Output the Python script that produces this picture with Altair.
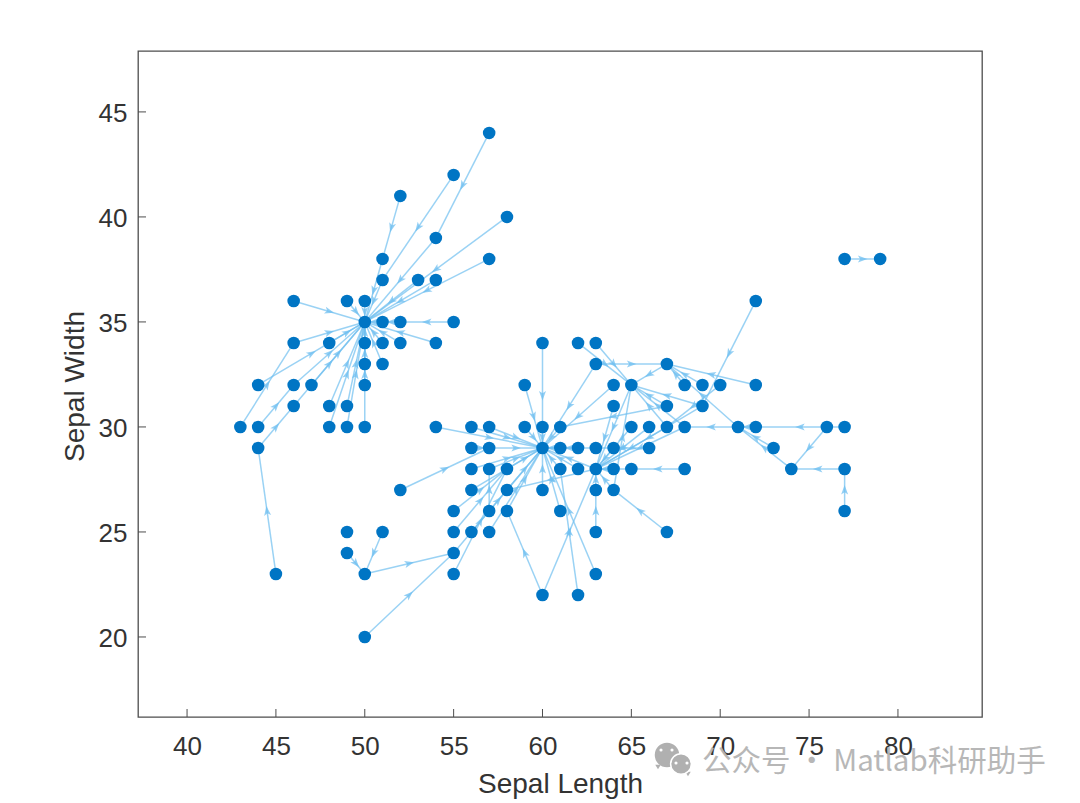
import math
import altair as alt
import pandas as pd

x_ticks = [40, 45, 50, 55, 60, 65, 70, 75, 80]
y_ticks = [20, 25, 30, 35, 40, 45]
x_domain = [37.24, 84.73]
y_domain = [16.19, 47.9]
PW, PH = 844, 666

node_x = [57,55,52,58,54,57,51,51,53,54,46,49,50,46,48,50,51,52,54,50,51,52,55,50,51,44,46,47,50,46,48,49,43,44,48,49,50,44,45,
          60,62,63,63,67,59,64,65,68,69,70,72,64,67,69,72,
          54,56,57,59,60,61,65,66,67,68,71,76,77,
          56,57,60,61,62,63,64,66,73,
          56,57,58,61,62,63,64,65,68,74,77,
          52,56,58,60,63,64,55,57,58,61,77,
          49,51,55,56,57,63,67,49,55,50,55,63,60,62,50,77,79,72]
node_y = [44,42,41,40,39,38,38,37,37,37,36,36,36,34,34,34,34,34,34,35,35,35,35,33,33,32,32,32,32,31,31,31,30,30,30,30,30,29,23,
          34,34,34,33,33,32,32,32,32,32,32,32,31,31,31,36,
          30,30,30,30,30,30,30,30,30,30,30,30,30,
          29,29,29,29,29,29,29,29,29,
          28,28,28,28,28,28,28,28,28,28,28,
          27,27,27,27,27,27,26,26,26,26,26,
          25,25,25,25,25,25,25,24,24,23,23,23,22,22,20,38,38,30]

edges = [
    ((57,44),(54,39)),((54,39),(50,35)),((55,42),(51,37)),((51,37),(50,35)),((52,41),(51,38)),((51,38),(50,35)),
    ((58,40),(50,35)),((57,38),(50,35)),((53,37),(50,35)),((54,37),(50,35)),((46,36),(50,35)),((49,36),(50,35)),
    ((50,36),(50,35)),((55,35),(52,35)),((52,35),(51,35)),((51,35),(50,35)),((54,34),(50,35)),((51,34),(50,35)),
    ((52,34),(50,35)),((50,34),(50,35)),((51,33),(50,35)),((50,33),(50,35)),((50,32),(50,35)),((50,30),(50,35)),
    ((46,34),(50,35)),((48,34),(50,35)),((44,32),(50,35)),((46,32),(50,35)),((47,32),(50,35)),((43,30),(46,34)),
    ((44,30),(46,32)),((44,29),(46,31)),((46,31),(50,35)),((45,23),(44,29)),((48,31),(50,35)),((49,31),(50,35)),
    ((48,30),(50,35)),((49,30),(50,35)),
    ((50,20),(55,24)),((50,23),(55,24)),((49,24),(50,23)),((51,25),(50,23)),
    ((60,34),(60,29)),((59,32),(60,29)),((62,34),(65,32)),((63,34),(65,32)),((63,33),(60,29)),((63,33),(67,33)),
    ((67,33),(65,32)),((64,32),(60,29)),((65,32),(63,28)),((64,31),(63,28)),((72,32),(67,33)),((71,30),(67,33)),
    ((68,32),(67,33)),((69,32),(67,33)),((70,32),(67,30)),((69,31),(65,32)),((67,31),(65,32)),((67,30),(65,32)),
    ((68,30),(65,32)),((67,31),(61,30)),((61,30),(60,29)),((69,31),(63,28)),((72,36),(69,31)),
    ((77,38),(79,38)),((77,26),(77,28)),((77,28),(74,28)),((76,30),(74,28)),((74,28),(71,30)),((73,29),(71,30)),
    ((77,30),(72,30)),((72,30),(71,30)),((71,30),(68,30)),((68,28),(65,28)),((65,28),(63,28)),((66,29),(63,29)),
    ((66,30),(63,28)),((65,30),(63,28)),((67,30),(63,28)),((68,30),(63,28)),((67,25),(64,27)),((64,27),(63,28)),((64,27),(65,32)),
    ((63,27),(63,28)),((63,25),(63,27)),((63,23),(60,29)),((62,22),(61,28)),((61,28),(60,29)),((60,22),(58,26)),
    ((60,22),(63,28)),((58,26),(60,29)),((58,27),(60,29)),((58,28),(60,29)),((61,26),(60,29)),((60,27),(60,29)),
    ((52,27),(57,29)),((54,30),(60,29)),((56,30),(60,29)),((57,30),(60,29)),((59,30),(60,29)),((60,30),(60,29)),
    ((56,29),(57,29)),((57,29),(60,29)),((56,28),(60,29)),((57,28),(60,29)),((56,27),(60,29)),((57,26),(57,28)),
    ((57,25),(60,29)),((55,23),(58,28)),((55,24),(60,29)),((55,25),(58,28)),((55,26),(58,28)),((56,25),(58,27)),
    ((61,29),(60,29)),((62,29),(60,29)),((63,29),(60,29)),((64,29),(63,28)),((64,28),(63,28)),((62,28),(60,29)),
    ((63,28),(60,29)),((63,28),(58,27)),
]

NODE = "#0075C4"
EDGE = "#6FBFF0"
INK = "#333333"
FRAME = "#4D4D4D"

sx = PW / (x_domain[1] - x_domain[0])
sy = PH / (y_domain[1] - y_domain[0])
edf = pd.DataFrame([
    {"x": a[0], "y": a[1], "x2": b[0], "y2": b[1],
     "mx": (a[0] + b[0]) / 2, "my": (a[1] + b[1]) / 2,
     "ang": (math.degrees(math.atan2((b[0] - a[0]) * sx, (b[1] - a[1]) * sy)) + 360) % 360}
    for a, b in edges
])
ndf = pd.DataFrame({"x": node_x, "y": node_y})


def X(field):
    return alt.X(f"{field}:Q", scale=alt.Scale(domain=x_domain, nice=False, zero=False),
                 axis=alt.Axis(values=x_ticks, title="Sepal Length", grid=False, ticks=False, domain=False,
                               labelFontSize=26, labelColor=INK, labelFont="Liberation Sans", labelPadding=16,
                               titleFontSize=28, titleColor=INK, titleFont="Liberation Sans", titleFontWeight="normal",
                               titleBaseline="alphabetic", titleX=PW / 2, titleY=75, format="d"))


def Y(field):
    return alt.Y(f"{field}:Q", scale=alt.Scale(domain=y_domain, nice=False, zero=False),
                 axis=alt.Axis(values=y_ticks, title="Sepal Width", grid=False, ticks=False, domain=False,
                               labelFontSize=26, labelColor=INK, labelFont="Liberation Sans", labelPadding=11,
                               labelOffset=2,
                               titleFontSize=28, titleColor=INK, titleFont="Liberation Sans", titleFontWeight="normal",
                               titleBaseline="alphabetic", titleX=-55, titleY=335, format="d"))


edge_layer = alt.Chart(edf).mark_rule(color=EDGE, strokeWidth=1.5, opacity=0.7).encode(
    x=X("x"), y=Y("y"), x2="x2:Q", y2="y2:Q")

ARROW = "M0,-1L0.7,0.9L0,0.45L-0.7,0.9Z"
arrow_layer = alt.Chart(edf).mark_point(shape=ARROW, filled=True, color=EDGE, opacity=0.75, size=100).encode(
    x=X("mx"), y=Y("my"), angle=alt.Angle("ang:Q", scale=None))

node_layer = alt.Chart(ndf).mark_circle(color=NODE, opacity=1, size=158).encode(x=X("x"), y=Y("y"))

xt = alt.Chart(pd.DataFrame({"t": x_ticks})).mark_rule(color=FRAME, strokeWidth=1).encode(
    x=X("t"), y=alt.value(PH), y2=alt.value(PH - 8))
yt = alt.Chart(pd.DataFrame({"t": y_ticks})).mark_rule(color=FRAME, strokeWidth=1).encode(
    y=Y("t"), x=alt.value(0), x2=alt.value(8))

GRAY = "#B4B4B4"
k = pd.DataFrame({"k": [1]})
wm_text = alt.Chart(pd.DataFrame({"t": ["公众号 · Matlab科研助手"]})).mark_text(
    font="Noto Sans CJK SC", fontSize=29.5, color=GRAY, align="left", baseline="middle", opacity=0.95
).encode(text="t:N", x=alt.value(564), y=alt.value(711))


def blob(px, py, size, shape="circle", color="#B0B0B0", **kw):
    return alt.Chart(k).mark_point(shape=shape, filled=True, color=color, opacity=1, size=size, **kw).encode(
        x=alt.value(px), y=alt.value(py))


wm_icon = [
    blob(520, 716, 30, "triangle-down"),
    blob(529, 704, 600),
    blob(550, 723, 30, "triangle-down"),
    blob(543, 713, 430, stroke="white", strokeWidth=1.5),
    blob(523, 699, 10, color="white"), blob(534, 699, 10, color="white"),
    blob(538, 712, 10, color="white"), blob(549, 712, 10, color="white"),
]

chart = alt.layer(edge_layer, arrow_layer, node_layer, xt, yt, *wm_icon, wm_text).properties(
    width=PW, height=PH, autosize="none",
    padding={"left": 130, "top": 43, "right": 90, "bottom": 84},
    background="white",
).configure_view(stroke=FRAME, strokeWidth=1.3)

chart.save("out.html", embed_options={"renderer": "svg", "actions": False})
